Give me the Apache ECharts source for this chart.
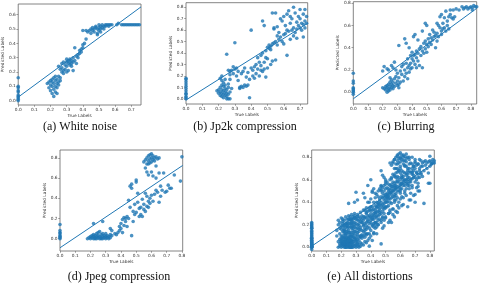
<!DOCTYPE html>
<html><head><meta charset="utf-8">
<script src="https://cdn.jsdelivr.net/npm/echarts@6/dist/echarts.min.js"></script>
<style>html,body{margin:0;padding:0;background:#fff}#c{width:480px;height:283px}</style>
</head><body><div id="c"></div>
<script>
// ---------- data ----------
const captions = ['(a) White noise','(b) Jp2k compression','(c) Blurring','(d) Jpeg compression','(e) All distortions'];
const xTicks7 = [0,0.1,0.2,0.3,0.4,0.5,0.6,0.7];
const xTicks8 = [0,0.1,0.2,0.3,0.4,0.5,0.6,0.7,0.8];
const yTicksA = [0,0.1,0.2,0.3,0.4,0.5,0.6];
const yTicksB = [0,0.1,0.2,0.3,0.4,0.5,0.6,0.7,0.8];
const yTicks2 = [0,0.2,0.4,0.6,0.8];

const whiteNoise = [[0,0.0],[0,0.01],[0,0.02],[0,0.03],[0,0.04],[0,0.06],[0,0.07],[0,0.09],[0,0.10],[0,0.16],
[0.18,0.12],[0.19,0.13],[0.19,0.09],[0.20,0.14],[0.20,0.11],[0.20,0.07],[0.21,0.10],[0.21,0.05],[0.21,0.13],[0.22,0.03],[0.22,0.08],[0.22,0.12],[0.22,0.16],[0.23,0.06],[0.23,0.10],[0.23,0.14],[0.24,0.09],[0.24,0.12],[0.24,0.15],[0.24,0.05],[0.25,0.13],[0.25,0.17],[0.25,0.11],[0.26,0.16],[0.26,0.14],[0.23,0.17],[0.21,0.15],
[0.25,0.24],[0.26,0.22],[0.27,0.20],[0.27,0.23],[0.27,0.26],[0.28,0.19],[0.28,0.21],[0.28,0.27],[0.29,0.22],[0.29,0.25],[0.30,0.20],[0.30,0.24],[0.30,0.27],[0.31,0.21],[0.31,0.26],[0.31,0.28],[0.32,0.25],[0.32,0.27],[0.32,0.29],[0.33,0.26],[0.33,0.28],[0.33,0.24],[0.34,0.27],[0.34,0.21],[0.35,0.28],[0.35,0.37],[0.34,0.30],[0.30,0.29],[0.36,0.26],
[0.36,0.31],[0.37,0.32],[0.37,0.30],[0.38,0.33],[0.38,0.35],[0.39,0.34],[0.39,0.36],[0.40,0.37],[0.40,0.39],[0.41,0.40],[0.42,0.43],
[0.40,0.49],[0.42,0.49],[0.43,0.48],[0.44,0.49],[0.45,0.47],[0.45,0.50],[0.46,0.49],[0.46,0.51],[0.47,0.50],[0.47,0.48],[0.48,0.51],[0.48,0.52],[0.49,0.50],[0.49,0.47],[0.50,0.53],[0.50,0.51],[0.50,0.49],[0.51,0.52],[0.51,0.50],[0.52,0.53],[0.52,0.51],[0.53,0.52],[0.53,0.50],[0.54,0.53],[0.54,0.52],[0.55,0.53],[0.56,0.52],[0.56,0.53],[0.57,0.53],[0.58,0.53],[0.49,0.46],[0.51,0.48],
[0.61,0.53],[0.62,0.54],[0.64,0.53],[0.65,0.53],[0.66,0.53],[0.67,0.53],[0.68,0.53],[0.69,0.53],[0.70,0.53],[0.71,0.53],[0.72,0.53],[0.73,0.53],[0.74,0.53],[0.75,0.53]];

const jp2k = [[0,0.0],[0,0.01],[0,0.02],[0,0.04],[0,0.05],[0,0.07],[0,0.09],[0,0.11],[0,0.13],[0,0.15],[0,0.17],[0,0.18],
[0.19,0.07],[0.20,0.05],[0.20,0.08],[0.21,0.03],[0.21,0.06],[0.21,0.10],[0.22,0.02],[0.22,0.05],[0.22,0.08],[0.23,0.04],[0.23,0.07],[0.23,0.11],[0.23,0.01],[0.24,0.03],[0.24,0.06],[0.24,0.09],[0.24,0.12],[0.25,0.02],[0.25,0.05],[0.25,0.08],[0.26,0.00],[0.26,0.04],[0.26,0.10],[0.27,0.00],[0.27,0.06],[0.25,0.00],[0.22,0.12],
[0.21,0.18],[0.22,0.20],[0.22,0.16],[0.23,0.14],[0.24,0.17],[0.25,0.39],[0.26,0.25],[0.27,0.24],[0.27,0.21],[0.28,0.25],[0.26,0.13],[0.27,0.17],[0.28,0.09],
[0.29,0.22],[0.29,0.28],[0.30,0.49],[0.30,0.26],[0.31,0.20],[0.31,0.27],[0.32,0.16],[0.32,0.24],[0.33,0.10],[0.33,0.09],[0.34,0.11],[0.34,0.22],[0.35,0.24],[0.35,0.10],[0.36,0.12],[0.36,0.27],[0.37,0.11],[0.37,0.19],[0.38,0.12],[0.38,0.23],[0.39,0.01],[0.39,0.17],[0.40,0.60],[0.40,0.27],[0.41,0.20],[0.41,0.25],[0.42,0.28],[0.42,0.18],[0.43,0.30],[0.43,0.22],[0.44,0.36],[0.44,0.26],[0.45,0.32],[0.45,0.20],[0.46,0.38],[0.46,0.25],[0.46,0.29],[0.47,0.68],[0.47,0.40],[0.47,0.24],[0.48,0.64],[0.48,0.32],[0.48,0.26],[0.49,0.36],[0.49,0.19],[0.49,0.42],[0.50,0.35],[0.50,0.27],
[0.50,0.45],[0.51,0.44],[0.51,0.47],[0.52,0.46],[0.52,0.43],[0.52,0.30],[0.53,0.48],[0.53,0.75],[0.53,0.33],[0.54,0.49],[0.54,0.61],[0.54,0.62],[0.55,0.75],[0.55,0.50],[0.55,0.34],[0.56,0.55],[0.56,0.63],[0.56,0.47],[0.57,0.52],[0.57,0.58],[0.58,0.54],[0.58,0.70],[0.59,0.68],[0.59,0.50],[0.60,0.72],[0.60,0.56],[0.60,0.48],[0.61,0.64],[0.61,0.57],[0.62,0.60],[0.62,0.38],[0.62,0.74],[0.63,0.77],[0.63,0.59],[0.64,0.66],[0.64,0.52],[0.64,0.72],[0.65,0.60],[0.65,0.70],[0.66,0.80],[0.66,0.62],[0.66,0.55],[0.67,0.75],[0.67,0.58],[0.68,0.67],[0.68,0.53],[0.68,0.61],[0.69,0.72],[0.69,0.64],[0.70,0.78],[0.70,0.62],[0.70,0.70],[0.71,0.66],[0.71,0.60],[0.72,0.65],[0.72,0.54],[0.72,0.74],[0.73,0.78],[0.73,0.68],[0.74,0.66],[0.74,0.72],[0.73,0.62]];

const blurring = [[0,-0.02],[0,0.0],[0,0.01],[0,0.02],[0,0.03],[0,0.04],[0,0.08],[0,0.10],[0,0.17],
[0.20,0.04],[0.21,0.03],[0.22,0.05],[0.22,0.02],[0.23,0.00],[0.23,0.06],[0.24,0.03],[0.24,0.07],[0.24,0.01],[0.25,0.05],[0.25,0.09],[0.25,0.02],[0.26,0.04],[0.26,0.07],[0.26,0.11],[0.27,0.06],[0.27,0.09],[0.27,0.03],[0.28,0.05],[0.28,0.12],[0.29,0.08],[0.29,0.14],[0.30,0.06],[0.30,0.10],[0.31,0.07],[0.31,0.04],[0.32,0.09],[0.23,0.04],[0.25,0.13],
[0.20,0.19],[0.21,0.23],[0.23,0.21],[0.24,0.20],[0.26,0.24],[0.28,0.27],[0.27,0.22],[0.29,0.20],[0.30,0.17],[0.31,0.42],
[0.31,0.13],[0.32,0.19],[0.33,0.16],[0.33,0.23],[0.34,0.10],[0.34,0.25],[0.35,0.14],[0.35,0.20],[0.35,0.48],[0.36,0.26],[0.36,0.17],[0.36,0.44],[0.37,0.22],[0.37,0.12],[0.37,0.30],[0.38,0.24],[0.38,0.18],[0.38,0.40],[0.39,0.26],[0.39,0.21],[0.39,0.33],[0.40,0.30],[0.40,0.22],[0.40,0.36],[0.41,0.50],[0.41,0.28],[0.41,0.33],[0.42,0.52],[0.42,0.34],[0.42,0.25],[0.43,0.31],[0.43,0.37],[0.43,0.22],[0.44,0.35],[0.44,0.28],[0.45,0.39],[0.45,0.24],[0.46,0.41],[0.46,0.33],[0.47,0.55],[0.47,0.37],[0.47,0.22],[0.48,0.44],[0.48,0.35],[0.49,0.62],[0.49,0.46],[0.49,0.39],[0.50,0.43],[0.50,0.60],[0.50,0.36],[0.44,0.47],
[0.51,0.41],[0.51,0.48],[0.52,0.45],[0.52,0.52],[0.53,0.49],[0.53,0.43],[0.54,0.47],[0.54,0.56],[0.55,0.50],[0.55,0.54],[0.56,0.40],[0.56,0.51],[0.57,0.53],[0.57,0.46],[0.58,0.60],[0.58,0.50],[0.59,0.58],[0.59,0.68],[0.60,0.70],[0.60,0.55],[0.60,0.52],[0.61,0.62],[0.61,0.57],[0.62,0.58],[0.62,0.67],[0.63,0.73],[0.63,0.55],[0.64,0.64],[0.64,0.60],[0.65,0.68],[0.65,0.57],[0.66,0.74],[0.66,0.70],[0.67,0.67],[0.68,0.66],[0.68,0.74],[0.70,0.75],[0.72,0.74],[0.74,0.77],[0.75,0.75],[0.76,0.76],[0.77,0.77],[0.78,0.75],[0.79,0.76],[0.80,0.77],[0.81,0.76],[0.82,0.78],[0.83,0.77],[0.84,0.77],[0.81,0.74],[0.69,0.68],[0.57,0.62]];

const jpeg = [[0,0.0],[0,0.01],[0,0.02],[0,0.03],[0,0.05],[0,0.06],[0,0.08],[0,0.14],
[0.18,0.00],[0.19,0.01],[0.20,0.00],[0.20,0.02],[0.21,0.01],[0.21,0.03],[0.22,0.00],[0.22,0.02],[0.22,0.04],[0.23,0.01],[0.23,0.03],[0.23,0.00],[0.24,0.02],[0.24,0.05],[0.24,0.00],[0.25,0.01],[0.25,0.03],[0.25,0.06],[0.26,0.00],[0.26,0.02],[0.26,0.07],[0.27,0.01],[0.27,0.04],[0.27,0.00],[0.28,0.02],[0.28,0.05],[0.28,0.00],[0.29,0.01],[0.29,0.03],[0.30,0.00],[0.30,0.02],[0.30,0.05],[0.31,0.01],[0.31,0.03],[0.32,0.00],[0.32,0.02],[0.33,0.04],[0.33,0.01],[0.34,0.03],[0.34,0.08],[0.33,0.10],[0.22,0.15],[0.28,0.17],
[0.36,0.05],[0.37,0.04],[0.38,0.06],[0.39,0.12],[0.39,0.08],[0.40,0.15],[0.40,0.10],[0.41,0.19],[0.41,0.06],[0.42,0.13],[0.42,0.21],[0.43,0.17],[0.43,0.20],[0.44,0.12],[0.44,0.22],[0.45,0.38],[0.45,0.20],[0.46,0.31],[0.46,0.52],[0.47,0.03],[0.47,0.54],[0.47,0.50],[0.48,0.17],[0.48,0.27],[0.49,0.24],[0.49,0.34],[0.50,0.56],[0.50,0.58],[0.50,0.26],[0.51,0.45],[0.51,0.36],[0.52,0.22],[0.52,0.30],[0.53,0.31],[0.53,0.24],[0.54,0.39],[0.54,0.22],[0.55,0.29],[0.55,0.34],[0.56,0.45],[0.56,0.27],[0.57,0.42],[0.57,0.32],[0.58,0.37],[0.58,0.31],[0.59,0.40],[0.59,0.35],
[0.55,0.76],[0.56,0.70],[0.56,0.78],[0.57,0.80],[0.57,0.74],[0.57,0.66],[0.58,0.82],[0.58,0.77],[0.58,0.63],[0.59,0.83],[0.59,0.79],[0.59,0.75],[0.60,0.84],[0.60,0.80],[0.60,0.66],[0.61,0.82],[0.61,0.78],[0.61,0.62],[0.62,0.80],[0.62,0.77],[0.63,0.81],[0.63,0.72],[0.64,0.79],[0.65,0.80],[0.60,0.76],[0.58,0.74],
[0.60,0.43],[0.61,0.37],[0.62,0.44],[0.63,0.60],[0.63,0.48],[0.64,0.46],[0.65,0.65],[0.65,0.36],[0.66,0.52],[0.67,0.48],[0.68,0.65],[0.69,0.46],[0.70,0.47],[0.71,0.53],[0.72,0.50],[0.73,0.50],[0.75,0.63],[0.79,0.57],[0.80,0.81],[0.66,0.42]];

const allExtra = [[0,0.12],[0,0.19],[0,0.20],[0,0.22],[0,0.21],[0,0.06],[0,0.03],
[0.17,0.10],[0.17,0.15],[0.18,0.05],[0.18,0.20],[0.18,0.24],[0.19,0.03],[0.19,0.17],[0.19,0.22],[0.20,0.10],[0.20,0.16],[0.20,0.26],[0.21,0.08],[0.21,0.21],[0.21,0.25],[0.22,0.09],[0.22,0.14],[0.22,0.24],[0.23,0.18],[0.23,0.09],[0.23,0.27],[0.24,0.14],[0.24,0.19],[0.24,0.25],[0.25,0.15],[0.25,0.21],[0.25,0.28],[0.26,0.18],[0.26,0.27],[0.26,0.06],[0.27,0.13],[0.27,0.19],[0.27,0.29],[0.28,0.10],[0.28,0.15],[0.28,0.22],[0.29,0.12],[0.29,0.18],[0.29,0.30],[0.30,0.08],[0.30,0.14],[0.30,0.21],[0.31,0.11],[0.31,0.17],[0.31,0.24],[0.32,0.06],[0.32,0.14],[0.32,0.21],[0.33,0.18],[0.33,0.26],[0.34,0.15],[0.34,0.22],[0.35,0.02],[0.35,0.19],[0.35,0.27],[0.36,0.09],[0.36,0.21],[0.37,0.16],[0.37,0.26],
[0.19,0.12],[0.20,0.06],[0.21,0.14],[0.22,0.19],[0.23,0.12],[0.24,0.22],[0.25,0.18],[0.26,0.21],[0.27,0.25],[0.28,0.19],[0.29,0.26],[0.30,0.25],[0.31,0.29],[0.32,0.27],[0.33,0.31],[0.34,0.28],[0.35,0.33],[0.25,0.25],[0.27,0.10],[0.29,0.07],
[0.36,0.33],[0.37,0.35],[0.38,0.28],[0.38,0.32],[0.39,0.28],[0.39,0.40],[0.40,0.24],[0.40,0.33],[0.40,0.43],[0.41,0.36],[0.41,0.26],[0.42,0.30],[0.42,0.40],[0.43,0.27],[0.43,0.33],[0.43,0.44],[0.44,0.31],[0.44,0.40],[0.45,0.28],[0.45,0.36],[0.45,0.45],[0.46,0.35],[0.46,0.43],[0.47,0.30],[0.47,0.45],[0.48,0.38],[0.48,0.48],[0.49,0.30],[0.49,0.50],[0.49,0.55],[0.50,0.40],[0.50,0.47],[0.51,0.53],[0.51,0.40],[0.51,0.58],[0.52,0.37],[0.52,0.56],[0.53,0.40],[0.53,0.55],[0.53,0.60],[0.54,0.44],[0.54,0.52],[0.55,0.45],[0.55,0.58],[0.55,0.65],[0.38,0.55],[0.36,0.15],[0.42,0.12],[0.29,0.40],[0.44,0.18],
[0.41,0.49],[0.43,0.48],[0.45,0.50],[0.47,0.51],[0.48,0.53],[0.50,0.52],[0.52,0.50],[0.54,0.54],[0.56,0.53],[0.53,0.51],[0.39,0.35],[0.37,0.31],
[0.56,0.42],[0.56,0.57],[0.56,0.64],[0.57,0.55],[0.57,0.48],[0.58,0.58],[0.58,0.44],[0.58,0.67],[0.59,0.53],[0.59,0.62],[0.60,0.50],[0.60,0.60],[0.61,0.52],[0.61,0.68],[0.61,0.45],[0.62,0.55],[0.62,0.63],[0.63,0.50],[0.63,0.66],[0.64,0.57],[0.64,0.76],[0.65,0.55],[0.65,0.62],[0.66,0.58],[0.66,0.67],[0.67,0.60],[0.67,0.42],[0.68,0.55],[0.68,0.70],[0.69,0.62],[0.69,0.72],[0.70,0.58],[0.70,0.40],[0.71,0.67],[0.71,0.73],[0.72,0.62],[0.72,0.57],[0.73,0.70],[0.74,0.65],[0.75,0.72],[0.76,0.39],[0.76,0.68],[0.77,0.73],[0.78,0.70],[0.79,0.66],[0.80,0.72],[0.81,0.74],[0.82,0.75],[0.83,0.75],[0.80,0.57],[0.62,0.82],[0.64,0.83],[0.66,0.78],[0.68,0.80],[0.70,0.76],[0.60,0.79],[0.58,0.81],[0.56,0.78],[0.54,0.73],[0.57,0.70]];
const allDistortions = jp2k.concat(blurring, jpeg, allExtra);

// fitted lines, endpoints
const lineA = [[0,0.025],[0.76,0.655]];
const lineB = [[0,-0.01],[0.747,0.66]];
const lineC = [[0,-0.06],[0.84,0.755]];
const lineD = [[0,-0.09],[0.805,0.725]];
const lineE = [[0,0.01],[0.83,0.75]];

// axis extents
const xMax = [0.76, 0.747, 0.84, 0.805, 0.83];
const yMin = [-0.03, -0.045, -0.107, -0.122, -0.033];
const yMax = [0.675, 0.84, 0.815, 0.878, 0.865];

// ---------- layout ----------
const panels = [
  {g:{left:17.3, top:4,   width:123.7, height:101}, xt:xTicks7, yt:yTicksA, pts:whiteNoise, ln:lineA, cap:[80,127]},
  {g:{left:186,  top:2.7, width:121.7, height:101.3}, xt:xTicks7, yt:yTicksB, pts:jp2k, ln:lineB, cap:[245,127]},
  {g:{left:353.3,top:1.7, width:123.4, height:102.3}, xt:xTicks8, yt:yTicks2, pts:blurring, ln:lineC, cap:[406,127]},
  {g:{left:60,   top:150, width:122.7, height:101}, xt:xTicks8, yt:yTicks2, pts:jpeg, ln:lineD, cap:[119,276.5]},
  {g:{left:311.7,top:150, width:122.6, height:101}, xt:xTicks8, yt:yTicks2, pts:allDistortions, ln:lineE, cap:[370,276.5]}
];
const BLUE = '#1f77b4';
const tickFont = {fontSize:4.3, color:'#333', fontFamily:'DejaVu Sans'};
const grid=[], xAxis=[], yAxis=[], series=[], graphic=[];
panels.forEach((p,i)=>{
  grid.push(Object.assign({show:true, borderColor:'#666', borderWidth:0.8, containLabel:false}, p.g));
  xAxis.push({type:'value', gridIndex:i, min:0, max:xMax[i],
    name:'True Labels', nameLocation:'middle', nameGap:8.5, nameTextStyle:tickFont,
    axisLine:{show:false, onZero:false}, splitLine:{show:false},
    axisTick:{show:true, length:1.8, lineStyle:{color:'#666', width:0.6}, customValues:p.xt},
    axisLabel:Object.assign({margin:2.5, customValues:p.xt, formatter:v=>v.toFixed(1)}, tickFont)});
  yAxis.push({type:'value', gridIndex:i, min:yMin[i], max:yMax[i],
    name:'Predicted Labels', nameLocation:'middle', nameGap:10, nameTextStyle:tickFont,
    axisLine:{show:false, onZero:false}, splitLine:{show:false},
    axisTick:{show:true, length:1.8, lineStyle:{color:'#666', width:0.6}, customValues:p.yt},
    axisLabel:Object.assign({margin:2.5, customValues:p.yt, formatter:v=>v.toFixed(1)}, tickFont)});
  series.push({type:'scatter', xAxisIndex:i, yAxisIndex:i, data:p.pts, symbolSize:3.6,
    itemStyle:{color:BLUE, opacity:0.8}, silent:true, animation:false});
  series.push({type:'line', xAxisIndex:i, yAxisIndex:i, data:p.ln, showSymbol:false, symbol:'none',
    lineStyle:{color:BLUE, width:1}, silent:true, animation:false, z:3});
  graphic.push({type:'text', x:p.cap[0], y:p.cap[1], style:{text:captions[i], fill:'#111',
    font:'12px "Liberation Serif"', textAlign:'center', textVerticalAlign:'middle'}});
});
const chart = echarts.init(document.getElementById('c'), null, {renderer:'canvas'});
chart.setOption({animation:false, grid, xAxis, yAxis, series, graphic});
</script></body></html>
